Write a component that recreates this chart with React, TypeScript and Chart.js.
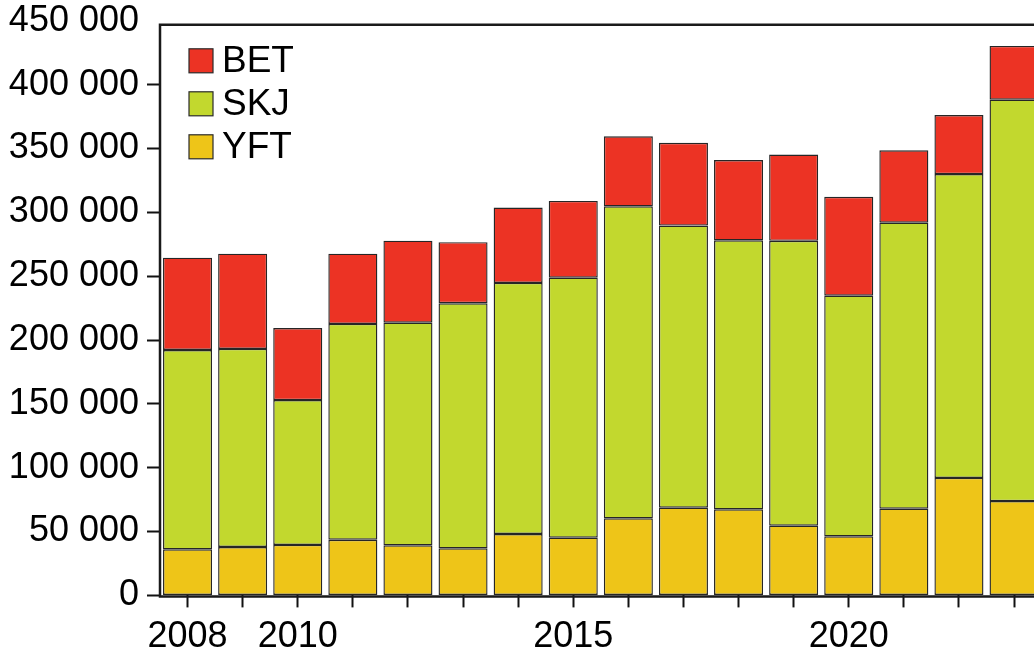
import React, { useEffect, useRef } from 'react';
import { Chart, registerables } from 'chart.js';

Chart.register(...registerables);

const years = ['2008', '2009', '2010', '2011', '2012', '2013', '2014', '2015', '2016', '2017', '2018', '2019', '2020', '2021', '2022', '2023'];
const labeledYears = ['2008', '2010', '2015', '2020'];
const yftValues = [36100, 37900, 39500, 43600, 39200, 36900, 48100, 45200, 60400, 68700, 67400, 54600, 46300, 67900, 92000, 73900];
const skjValues = [156100, 155100, 113500, 169000, 174400, 191900, 196600, 203600, 244300, 220900, 210700, 223100, 188400, 224000, 238000, 314300];
const betValues = [72300, 74600, 56400, 55000, 64200, 47800, 59000, 60100, 54800, 64800, 62900, 67600, 77500, 56700, 46200, 42100];
const seriesNames = ['YFT', 'SKJ', 'BET'];
const seriesColors = ['#EEC518', '#C2D82E', '#EC3324'];
const yMax = 450000;
const yStep = 50000;

const FONT = "'Liberation Sans', Arial, Helvetica, sans-serif";

const formatThousands = (v: number) => String(v).replace(/\B(?=(\d{3})+(?!\d))/g, ' ');

const framePlugin = {
  id: 'frame',
  afterDatasetsDraw(chart: any) {
    const { ctx, chartArea } = chart;
    const topY = chartArea.top + 4;
    ctx.save();
    ctx.strokeStyle = '#1a1a1a';
    ctx.lineWidth = 2.5;
    ctx.beginPath();
    ctx.moveTo(chartArea.right + 20, topY);
    ctx.lineTo(chartArea.left, topY);
    ctx.lineTo(chartArea.left, chartArea.bottom + 1);
    ctx.lineTo(chartArea.right + 20, chartArea.bottom + 1);
    ctx.stroke();
    ctx.restore();
  },
};

const legendPlugin = {
  id: 'innerLegend',
  afterDraw(chart: any) {
    const { ctx, chartArea } = chart;
    const ds = chart.data.datasets.slice().reverse();
    const x0 = chartArea.left + 29;
    let y0 = chartArea.top + 28;
    const box = 24;
    const step = 43;
    ctx.save();
    ds.forEach((d: any) => {
      ctx.fillStyle = d.backgroundColor;
      ctx.fillRect(x0, y0, box, box);
      ctx.strokeStyle = '#2b2b2b';
      ctx.lineWidth = 1.2;
      ctx.strokeRect(x0, y0, box, box);
      ctx.fillStyle = '#000';
      ctx.font = `37px ${FONT}`;
      ctx.textBaseline = 'middle';
      ctx.textAlign = 'left';
      ctx.fillText(d.label, x0 + box + 9, y0 + box / 2 + 1);
      y0 += step;
    });
    ctx.restore();
  },
};

export default function App() {
  const canvasRef = useRef<HTMLCanvasElement | null>(null);

  useEffect(() => {
    if (!canvasRef.current) return;
    const values = [yftValues, skjValues, betValues];
    const chart = new Chart(canvasRef.current, {
      type: 'bar',
      data: {
        labels: years,
        datasets: seriesNames.map((name, i) => ({
          label: name,
          data: values[i],
          backgroundColor: seriesColors[i],
          borderColor: '#262626',
          borderWidth: 1.4,
          borderSkipped: false,
          barPercentage: 0.89,
          categoryPercentage: 1,
        })),
      },
      options: {
        animation: false,
        responsive: false,
        devicePixelRatio: 1,
        layout: { autoPadding: false, padding: { left: 0, top: 20.8, right: 8.4, bottom: 0 } },
        plugins: { legend: { display: false }, tooltip: { enabled: false } },
        scales: {
          x: {
            stacked: true,
            offset: true,
            grid: {
              display: true,
              offset: false,
              drawOnChartArea: false,
              drawTicks: true,
              tickLength: 12,
              tickWidth: 2,
              tickColor: '#111',
            },
            border: { display: false },
            ticks: {
              autoSkip: false,
              maxRotation: 0,
              minRotation: 0,
              padding: 8,
              color: '#000',
              font: { family: FONT, size: 36 },
              callback: function (this: any, v: any) {
                const l = this.getLabelForValue(v);
                return labeledYears.includes(l) ? l : '';
              },
            },
            afterFit: (s: any) => {
              s.height = 58.6;
            },
          },
          y: {
            stacked: true,
            min: 0,
            max: yMax,
            grid: {
              display: true,
              drawOnChartArea: false,
              drawTicks: true,
              tickLength: 13,
              tickWidth: 2,
              tickColor: (c: any) => (c.tick && c.tick.value === yMax ? 'rgba(0,0,0,0)' : '#111'),
            },
            border: { display: false },
            ticks: {
              stepSize: yStep,
              padding: 8,
              color: '#000',
              font: { family: FONT, size: 36, lineHeight: 0.4 },
              callback: (v: any) => formatThousands(Number(v)),
            },
            afterFit: (s: any) => {
              s.width = 160;
            },
          },
        },
      },
      plugins: [framePlugin, legendPlugin],
    });
    return () => chart.destroy();
  }, []);

  return (
    <div style={{ position: 'fixed', left: 0, top: 0, width: 1034, height: 654, overflow: 'hidden', background: '#fff' }}>
      <canvas ref={canvasRef} width={1050} height={654} style={{ width: 1050, height: 654, display: 'block' }} />
    </div>
  );
}
